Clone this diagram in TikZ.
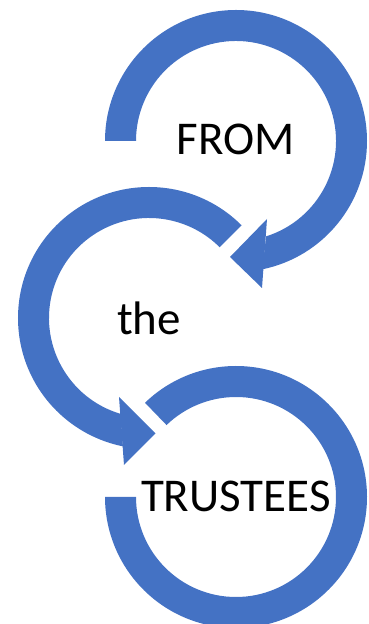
\documentclass[tikz,border=0pt]{standalone}
\usepackage{fontspec}
\setmainfont{Carlito}
\usetikzlibrary{calc}
\definecolor{officeblue}{HTML}{4472C4}
\tikzset{
  band/.style={fill=officeblue, draw=none},
  label/.style={anchor=base, inner sep=0pt, font=\fontsize{47}{56}\selectfont, text=black}
}
\begin{document}
\begin{tikzpicture}[x=1pt,y=1pt]
\useasboundingbox (0,0) rectangle (368,624);
\clip (0,0) rectangle (368,624);
\coordinate (c1) at (236,483);
\coordinate (c2) at (149,306);
\coordinate (c3) at (236,127);
% top ring (clockwise) with arrowhead
\fill[band] ($(c1)+(180:131pt)$) arc[start angle=180, end angle=-78.4, radius=131pt]
  -- ($(c1)+(-72.5:100pt)$) arc[start angle=-72.5, end angle=180, radius=100pt] -- cycle;
\coordinate (h1a) at (267,405);
\coordinate (h1t) at (230,367);
\coordinate (h1b) at (262,336);
\fill[band] (h1a) -- (h1t) -- (h1b) -- cycle;
% middle ring (counter-clockwise) with arrowhead
\fill[band] ($(c2)+(45:131pt)$) arc[start angle=45, end angle=258.5, radius=131pt]
  -- ($(c2)+(253.6:100pt)$) arc[start angle=253.6, end angle=45, radius=100pt] -- cycle;
\coordinate (h2a) at (119,227);
\coordinate (h2t) at (155.5,190.5);
\coordinate (h2b) at (124,159);
\fill[band] (h2a) -- (h2t) -- (h2b) -- cycle;
% bottom ring (clockwise, no head)
\fill[band] ($(c3)+(134:131pt)$) arc[start angle=134, end angle=-180, radius=131pt]
  -- ($(c3)+(180:100pt)$) arc[start angle=-180, end angle=134, radius=100pt] -- cycle;
% texts
\node[label] (from) at (235.5,469) {FROM};
\node[label] (the) at (149,289) {the};
\node[label] (trustees) at (236,112) {TRUSTEES};
\end{tikzpicture}
\end{document}
